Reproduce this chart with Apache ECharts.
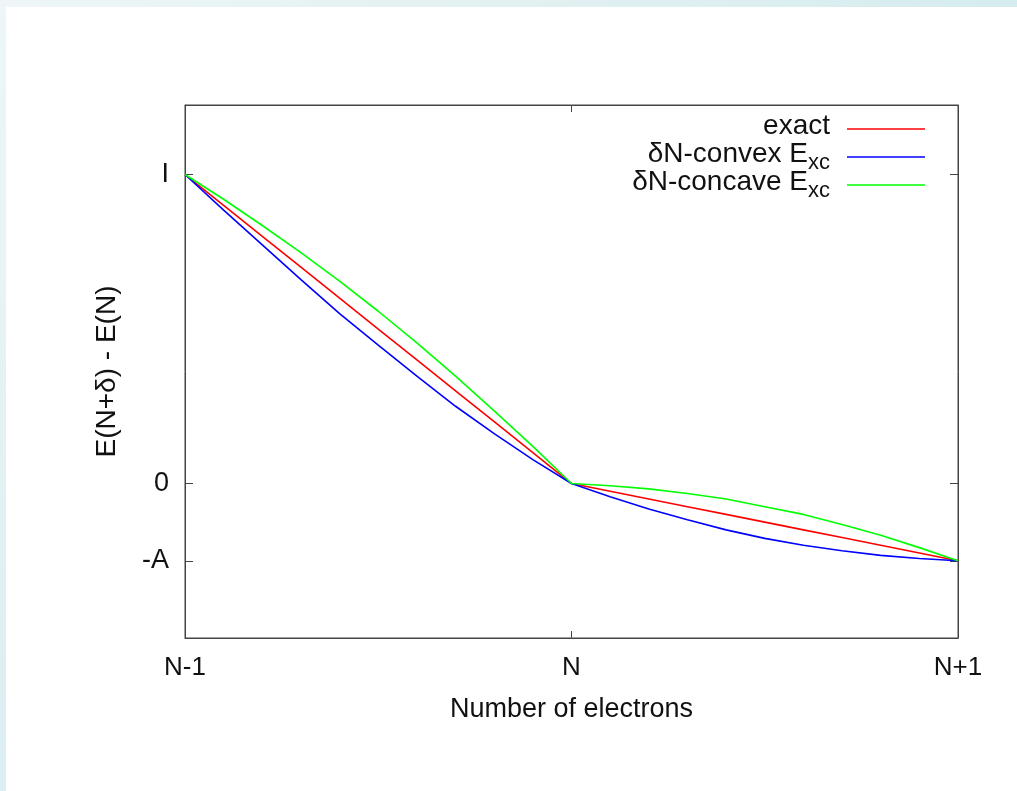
<!DOCTYPE html>
<html>
<head>
<meta charset="utf-8">
<script src="https://cdn.jsdelivr.net/npm/echarts@6/dist/echarts.min.js"></script>
<style>
  html, body { margin: 0; padding: 0; background: #fff; }
  #bandTop { position: absolute; left: 0; top: 0; width: 1017px; height: 7px;
    background: linear-gradient(90deg, #eef6f7 0%, #e2f1f2 50%, #d6ecef 100%); }
  #bandLeft { position: absolute; left: 0; top: 0; width: 6px; height: 791px;
    background: linear-gradient(180deg, #eef6f7 0%, #dbeef1 100%); }
  #chart { position: absolute; left: 0; top: 0; width: 1017px; height: 791px; }
</style>
</head>
<body>
<div id="bandTop"></div>
<div id="bandLeft"></div>
<div id="chart"></div>
<script>
// number of electrons, N-1 .. N+1 (N = 0)
const xValues = [-1, -0.9, -0.8, -0.7, -0.6, -0.5, -0.4, -0.3, -0.2, -0.1, 0,
  0.1, 0.2, 0.3, 0.4, 0.5, 0.6, 0.7, 0.8, 0.9, 1]
// E(N+d) - E(N), in units where I = 4 and A = 1
const exactValues = [4, 3.6, 3.2, 2.8, 2.4, 2, 1.6, 1.2, 0.8, 0.4, 0,
  -0.1, -0.2, -0.3, -0.4, -0.5, -0.6, -0.7, -0.8, -0.9, -1]
const convexValues = [4, 3.54, 3.09, 2.64, 2.2, 1.79, 1.39, 1.0, 0.645, 0.31, 0,
  -0.17, -0.33, -0.47, -0.6, -0.71, -0.8, -0.87, -0.93, -0.97, -1]
const concaveValues = [4, 3.68, 3.34, 2.99, 2.62, 2.23, 1.82, 1.39, 0.94, 0.48, 0,
  -0.03, -0.07, -0.13, -0.2, -0.3, -0.4, -0.53, -0.67, -0.83, -1]

const xTickValues = [-1, 0, 1]
const xTickLabels = ['N-1', 'N', 'N+1']
const yTickValues = [4, 0, -1]
const yTickLabels = ['I', '0', '-A']

const seriesNames = ['exact', 'δN-convex E_xc', 'δN-concave E_xc']
const seriesColors = ['#ff0000', '#0000ff', '#00ff00']

const toPoints = (vals) => vals.map((v, i) => [xValues[i], v])

const axisColor = '#444'
const textColor = '#111'
const fontFamily = 'Arial, "Liberation Sans", Helvetica, sans-serif'

const legendRich = {
  t: { fontSize: 28, fontFamily: fontFamily, color: textColor, padding: [0, 0, 6, 0], verticalAlign: 'top' },
  s: { fontSize: 22, fontFamily: fontFamily, color: textColor, padding: [12, 0, 0, 0], verticalAlign: 'top' },
  g: { width: 12 }
}
function legendLabel(name) {
  if (name.indexOf('_') < 0) return '{t|' + name + '}{g| }'
  const parts = name.split('_')
  return '{t|' + parts[0] + '}{s|' + parts[1] + '}{g| }'
}
const legendTops = [112, 140, 168]

let chart = echarts.init(document.getElementById('chart'))
let option = {
  animation: false,
  grid: {
    left: 185, right: 59, top: 105, bottom: 153,
    show: true, borderColor: axisColor, borderWidth: 1
  },
  legend: seriesNames.map((n, i) => ({
    data: [n],
    right: 92,
    top: legendTops[i],
    padding: 0,
    align: 'right',
    orient: 'vertical',
    icon: 'rect',
    itemWidth: 78,
    itemHeight: 1.6,
    formatter: legendLabel,
    textStyle: { rich: legendRich }
  })),
  xAxis: [
    {
      type: 'value', min: -1, max: 1, interval: 1,
      name: 'Number of electrons', nameLocation: 'middle', nameGap: 58,
      nameTextStyle: { fontSize: 27, color: textColor, fontFamily: fontFamily },
      axisLine: { onZero: false, lineStyle: { color: axisColor } },
      axisTick: { inside: true, length: 7, lineStyle: { color: axisColor } },
      axisLabel: {
        margin: 17, fontSize: 26, color: textColor, fontFamily: fontFamily,
        formatter: (v) => xTickLabels[xTickValues.indexOf(v)] || ''
      },
      splitLine: { show: false }
    },
    {
      type: 'value', min: -1, max: 1, interval: 1, position: 'top',
      axisLine: { onZero: false, lineStyle: { color: axisColor } },
      axisTick: { inside: true, length: 7, lineStyle: { color: axisColor } },
      axisLabel: { show: false },
      splitLine: { show: false }
    }
  ],
  yAxis: [
    {
      type: 'value', min: -2, max: 4.9,
      name: 'E(N+δ) - E(N)', nameLocation: 'middle', nameGap: 64,
      nameTextStyle: { fontSize: 28, color: textColor, fontFamily: fontFamily },
      axisLine: { show: true, onZero: false, lineStyle: { color: axisColor } },
      axisTick: { show: true, inside: true, length: 8, customValues: yTickValues, lineStyle: { color: axisColor } },
      axisLabel: {
        margin: 16, fontSize: 27, color: textColor, fontFamily: fontFamily,
        customValues: yTickValues,
        formatter: (v) => yTickLabels[yTickValues.indexOf(v)] || ''
      },
      splitLine: { show: false }
    },
    {
      type: 'value', min: -2, max: 4.9, position: 'right',
      axisLine: { show: true, onZero: false, lineStyle: { color: axisColor } },
      axisTick: { show: true, inside: true, length: 8, customValues: yTickValues, lineStyle: { color: axisColor } },
      axisLabel: { show: false },
      splitLine: { show: false }
    }
  ],
  series: [exactValues, convexValues, concaveValues].map((vals, i) => ({
    name: seriesNames[i],
    type: 'line',
    data: toPoints(vals),
    symbol: 'none',
    color: seriesColors[i],
    lineStyle: { width: 1.6, color: seriesColors[i] }
  }))
}
chart.setOption(option)
</script>
</body>
</html>
